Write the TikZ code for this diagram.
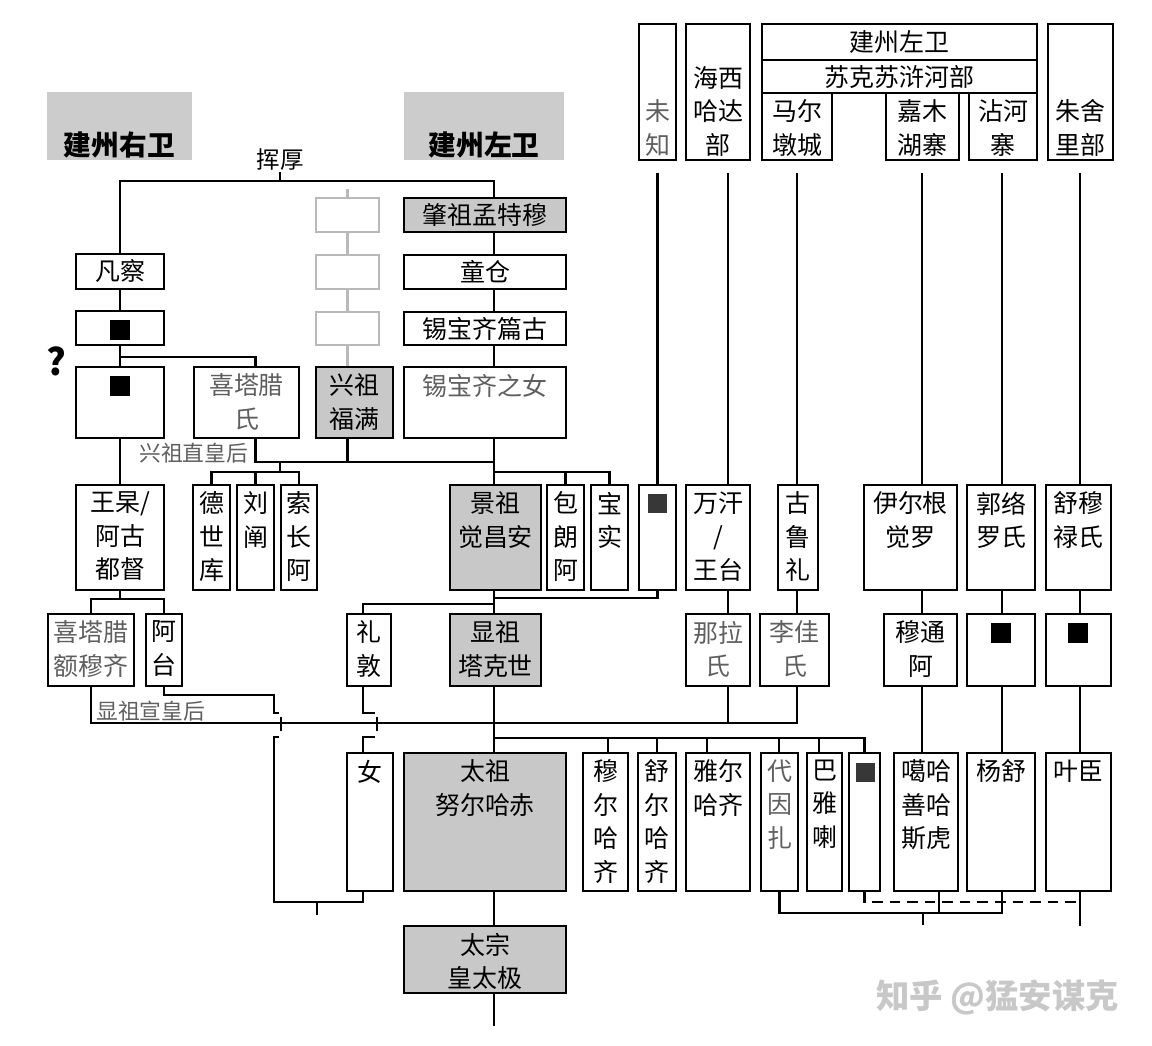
\documentclass[tikz,border=0pt]{standalone}
\usepackage{fontspec}
\setmainfont{Noto Sans CJK SC}
\usetikzlibrary{fit,calc}
\definecolor{rulerfill}{RGB}{200,200,200}
\definecolor{headfill}{RGB}{204,204,204}
\definecolor{ghostgray}{RGB}{185,185,185}
\definecolor{textgray}{RGB}{95,95,95}
\definecolor{darkbox}{RGB}{55,55,55}
\definecolor{wmgray}{RGB}{200,200,200}

\begin{document}
\begin{tikzpicture}[x=0.02cm, y=-0.02cm,
  person/.style={draw, line width=1.1pt, inner sep=0pt, fill=white},
  ruler/.style={person, fill=rulerfill},
  ghost/.style={draw=ghostgray, line width=1pt, inner sep=0pt},
  head/.style={fill=headfill, inner sep=0pt},
  nm/.style={font=\fontsize{14.2}{19}\selectfont, align=center, inner sep=0pt},
  ttext/.style={label={[nm, anchor=north, yshift=-0.15cm]north:{#1}}},
  gtext/.style={label={[nm, text=textgray, anchor=north, yshift=-0.15cm]north:{#1}}},
  btext/.style={label={[nm, anchor=south, yshift=0.09cm]south:{#1}}},
  gbtext/.style={label={[nm, text=textgray, anchor=south, yshift=0.09cm]south:{#1}}},
  ctext/.style={label={[nm, anchor=center]center:{#1}}},
  hdtext/.style={label={[nm, font=\bfseries\fontsize{15.8}{18}\selectfont, anchor=south, yshift=0.04cm]south:{#1}}},
  sq/.style={fill=black, minimum size=0.4cm, inner sep=0pt},
  darksq/.style={fill=darkbox, minimum size=0.38cm, inner sep=0pt},
  conn/.style={line width=1.6pt},
  pale/.style={draw=ghostgray, line width=1.2pt},
  wife/.style={font=\fontsize{12.4}{14}\selectfont, text=textgray, inner sep=0pt}]
\useasboundingbox (0,0) rectangle (1152,1045);

% headers
\node[head, fit={(47,92) (192,160)}, hdtext=建州右卫] (youwei) {};
\node[head, fit={(404,92) (564,160)}, hdtext=建州左卫] (zuowei) {};

% top right tribes
\node[person, fit={(639,24) (676,160)}, gbtext={未\\知}] (weizhi) {};
\node[person, fit={(686,24) (750,160)}, btext={海西\\哈达\\部}] (haixi) {};
\node[person, fit={(762,24) (1037,60)}, ctext=建州左卫] (jzzw) {};
\node[person, fit={(762,60) (1037,93)}, ctext=苏克苏浒河部] (sksh) {};
\node[person, fit={(762,93) (832,160)}, btext={马尔\\墩城}] (maer) {};
\node[person, fit={(886,93) (959,160)}, btext={嘉木\\湖寨}] (jiamu) {};
\node[person, fit={(969,93) (1037,160)}, btext={沾河\\寨}] (zhanhe) {};
\node[person, fit={(1048,24) (1113,160)}, btext={朱舍\\里部}] (zhushe) {};

% left branch
\node[person, fit={(76,254) (164,289)}, ctext=凡察] (fancha) {};
\node[person, fit={(76,311) (164,345)}] (fcson) {};
\node[sq] (fcsonsq) at (120,330) {};
\node[person, fit={(76,367) (164,438)}] (fcgs) {};
\node[sq] (fcgssq) at (120,386) {};
\node[font=\bfseries\fontsize{21}{21}\selectfont, inner sep=0pt] (doubt) at (56,361) {?};
\node[person, fit={(194,367) (299,438)}, gtext={喜塔腊\\氏}] (xitala) {};

% ghost line and xingzu
\node[ghost, fit={(316,198) (379,232)}] (g1) {};
\node[ghost, fit={(316,255) (379,289)}] (g2) {};
\node[ghost, fit={(316,312) (379,345)}] (g3) {};
\node[ruler, fit={(316,367) (393,438)}, ttext={兴祖\\福满}] (xingzu) {};

% main line
\node[ruler, fit={(404,198) (566,232)}, ctext=肇祖孟特穆] (zhaozu) {};
\node[person, fit={(404,255) (566,289)}, ctext=童仓] (tongcang) {};
\node[person, fit={(404,312) (566,345)}, ctext=锡宝齐篇古] (pianggu) {};
\node[person, fit={(404,367) (566,438)}, gtext=锡宝齐之女] (xbqnv) {};

% third row
\node[person, fit={(76,485) (164,590)}, ttext={王杲/\\阿古\\都督}] (wanggao) {};
\node[person, fit={(193,485) (230,590)}, ttext={德\\世\\库}] (deshiku) {};
\node[person, fit={(237,485) (274,590)}, ttext={刘\\阐}] (liuchan) {};
\node[person, fit={(281,485) (317,590)}, ttext={索\\长\\阿}] (suochang) {};
\node[ruler, fit={(450,485) (541,590)}, ttext={景祖\\觉昌安}] (jingzu) {};
\node[person, fit={(547,485) (584,590)}, ttext={包\\朗\\阿}] (baolang) {};
\node[person, fit={(591,485) (628,590)}, ttext={宝\\实}] (baoshi) {};
\node[person, fit={(639,485) (676,590)}] (wzwife) {};
\node[darksq] (wzwifesq) at (657,503) {};
\node[person, fit={(686,485) (750,590)}, ttext={万汗\\/\\王台}] (wanhan) {};
\node[person, fit={(778,485) (818,590)}, ttext={古\\鲁\\礼}] (gululi) {};
\node[person, fit={(864,485) (957,590)}, ttext={伊尔根\\觉罗}] (yiergen) {};
\node[person, fit={(967,485) (1035,590)}, ttext={郭络\\罗氏}] (guoluoluo) {};
\node[person, fit={(1046,485) (1111,590)}, ttext={舒穆\\禄氏}] (shumulu) {};

% fourth row
\node[person, fit={(48,614) (134,686)}, gtext={喜塔腊\\额穆齐}] (xtlemq) {};
\node[person, fit={(146,614) (182,686)}, ttext={阿\\台}] (atai) {};
\node[person, fit={(347,614) (391,686)}, ttext={礼\\敦}] (lidun) {};
\node[ruler, fit={(450,614) (541,686)}, ttext={显祖\\塔克世}] (xianzu) {};
\node[person, fit={(686,614) (750,686)}, gtext={那拉\\氏}] (nala) {};
\node[person, fit={(760,614) (829,686)}, gtext={李佳\\氏}] (lijia) {};
\node[person, fit={(884,614) (957,686)}, ttext={穆通\\阿}] (mutong) {};
\node[person, fit={(967,614) (1035,686)}] (glsq) {};
\node[sq] (glsqsq) at (1001,633) {};
\node[person, fit={(1046,614) (1111,686)}] (smsq) {};
\node[sq] (smsqsq) at (1078,633) {};

% fifth row
\node[person, fit={(347,753) (393,891)}, ttext=女] (nv) {};
\node[ruler, fit={(404,753) (566,891)}, ttext={太祖\\努尔哈赤}] (taizu) {};
\node[person, fit={(583,753) (628,891)}, ttext={穆\\尔\\哈\\齐}] (muerhaqi) {};
\node[person, fit={(638,753) (676,891)}, ttext={舒\\尔\\哈\\齐}] (shuerhaqi) {};
\node[person, fit={(686,753) (750,891)}, ttext={雅尔\\哈齐}] (yaerhaqi) {};
\node[person, fit={(761,753) (798,891)}, gtext={代\\因\\扎}] (daiyinza) {};
\node[person, fit={(807,753) (842,891)}, ttext={巴\\雅\\喇}] (bayala) {};
\node[person, fit={(849,753) (880,891)}] (dsq) {};
\node[darksq] (dsqsq) at (865,772) {};
\node[person, fit={(894,753) (958,891)}, ttext={噶哈\\善哈\\斯虎}] (gaha) {};
\node[person, fit={(967,753) (1035,891)}, ttext=杨舒] (yangshu) {};
\node[person, fit={(1046,753) (1111,891)}, ttext=叶臣] (yechen) {};

\node[ruler, fit={(404,926) (566,993)}, ttext={太宗\\皇太极}] (taizong) {};

% wives
\node[wife, anchor=south west] (xzqueen) at (139,464) {兴祖直皇后};
\node[wife, anchor=south west] (xqqueen) at (96,722) {显祖宣皇后};

% columns
\coordinate (spine) at (494,0);
\coordinate (chx) at (728,0);
\coordinate (cme) at (797,0);
\coordinate (cjm) at (922,0);
\coordinate (czh) at (1002,0);
\coordinate (czs) at (1080,0);
\coordinate (hh) at (280,181);

% huihou
\draw[conn] (fancha.north) |- (hh) -| (zhaozu.north -| spine);
\draw[conn] (hh) -- ++(0,-9) node[nm, font=\fontsize{13.4}{15}\selectfont, above=0pt] (huihou) {挥厚};
\draw[conn] (fancha) -- (fcson);
\draw[conn] (fcson) -- (fcgs);
\draw[conn] (fcson.south) ++(0,11) -| ($(xitala.north)+(9,0)$);
\draw[conn] (fcgs) -- (wanggao);

\draw[pale] (g1.north) ++(0,-8) -- (g1.north);
\draw[pale] (g1) -- (g2);
\draw[pale] (g2) -- (g3);
\draw[pale] (g3.south) -- (g3.south |- xingzu.north);

\draw[conn] (zhaozu.south -| spine) -- (tongcang.north -| spine);
\draw[conn] (tongcang.south -| spine) -- (pianggu.north -| spine);
\draw[conn] (pianggu.south -| spine) -- (xbqnv.north -| spine);

% xingzu marriages
\coordinate (xzm) at (280,462);
\draw[conn] ($(xitala.south)+(9,0)$) |- (xzm) -| (xbqnv.south -| spine);
\draw[conn] (xingzu.south -| g3) -- ++(0,24);
\draw[conn] (xbqnv.south -| spine) -- (jingzu.north -| spine);
\draw[conn] (xzm) -- ++(0,10) coordinate (xzk);
\draw[conn] (deshiku.north) |- (xzk) -| (suochang.north);
\draw[conn] (liuchan.north) -- (liuchan.north |- xzk);
\draw[conn] (spine |- xzk) -| (baoshi.north);
\draw[conn] (baolang.north) -- (baolang.north |- xzk);

\draw[conn] (wanggao.south) -- ++(0,8) coordinate (wgk);
\draw[conn] (xtlemq.north) |- (wgk) -| (atai.north);

% jingzu
\draw[conn] (jingzu.south -| spine) -- (xianzu.north -| spine);
\draw[conn] (wzwife.south) |- ($(jingzu.south -| spine)+(0,7)$);
\draw[conn] ($(lidun.north)+(-6,0)$) |- ($(xianzu.north -| spine)+(0,-9)$);

% tribes down
\draw[conn] ($(weizhi.south)+(0,12)$) -- (wzwife.north);
\draw[conn] ($(haixi.south -| chx)+(0,12)$) -- (wanhan.north -| chx);
\draw[conn] (wanhan.south -| chx) -- (nala.north -| chx);
\draw[conn] ($(maer.south -| cme)+(0,12)$) -- (gululi.north -| cme);
\draw[conn] (gululi.south -| cme) -- (lijia.north -| cme);
\draw[conn] ($(jiamu.south -| cjm)+(0,12)$) -- (yiergen.north -| cjm);
\draw[conn] (yiergen.south -| cjm) -- (mutong.north -| cjm);
\draw[conn] (mutong.south -| cjm) -- (gaha.north -| cjm);
\draw[conn] ($(zhanhe.south -| czh)+(0,12)$) -- (guoluoluo.north -| czh);
\draw[conn] (guoluoluo.south -| czh) -- (glsq.north -| czh);
\draw[conn] (glsq.south -| czh) -- (yangshu.north -| czh);
\draw[conn] ($(zhushe.south -| czs)+(0,12)$) -- (shumulu.north -| czs);
\draw[conn] (shumulu.south -| czs) -- (smsq.north -| czs);
\draw[conn] (smsq.south -| czs) -- (yechen.north -| czs);

% xianzu generation
\coordinate (gen) at (494,723);
\draw[conn] (xtlemq.south) |- (cme |- gen) -- (lijia.south -| cme);
\draw[conn] (nala.south -| chx) -- (chx |- gen);
\draw[conn] (xianzu.south -| spine) -- (taizu.north -| spine);
\draw[conn] ($(gen)+(0,15)$) -| (dsq.north);
\foreach \n/\x in {muerhaqi/608, shuerhaqi/657, yaerhaqi/707, daiyinza/779, bayala/819}
  \draw[conn] (\n.north -| \x,0) -- (\x,738);

% crossings
\draw[conn] (atai.south) |- (274,695) -- (274,713) -- (279,713);
\draw[conn] (281,717) -- (281,731);
\draw[conn] (279,737) -- (274,737) -- (274,902) -| (nv.south -| 363,0);
\draw[conn] (317,902) -- ++(0,13);
\draw[conn] ($(lidun.south)+(-6,0)$) -- (363,713) -- (375,713);
\draw[conn] (377,717) -- (377,731);
\draw[conn] (375,737) -- (363,737) -- (nv.north -| 363,0);

% bottom
\draw[conn] (taizu.south -| spine) -- (taizong.north -| spine);
\draw[conn] (taizong.south -| spine) -- ++(0,32);
\coordinate (ghm) at (923,913);
\draw[conn] (daiyinza.south) |- (ghm) -| (yangshu.south -| czh);
\draw[conn] (gaha.south -| 939,0) -- (939,913);
\draw[conn] (ghm) -- ++(0,12);
\draw[conn, dash pattern=on 6pt off 4pt] (dsq.south) |- (czs |- 0,902);
\draw[conn] (yechen.south -| czs) -- ++(0,34);

\node[font=\bfseries\fontsize{19}{19}\selectfont, text=wmgray, anchor=west, inner sep=0pt] (mark) at (876,997) {知乎 @猛安谋克};
\end{tikzpicture}
\end{document}
